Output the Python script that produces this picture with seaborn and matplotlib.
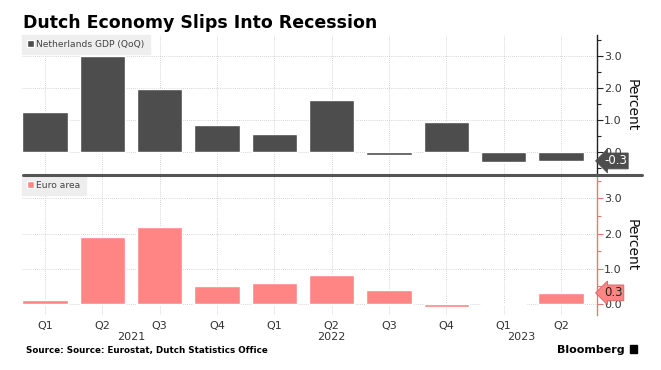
import matplotlib
matplotlib.use("Agg")
import matplotlib.pyplot as plt
from matplotlib.lines import Line2D
from matplotlib.patches import Rectangle
from matplotlib.ticker import MultipleLocator, FormatStrFormatter
import matplotlib.transforms as mtransforms
import seaborn as sns
import pandas as pd

# data
periods = ["2021 Q1", "2021 Q2", "2021 Q3", "2021 Q4",
           "2022 Q1", "2022 Q2", "2022 Q3", "2022 Q4",
           "2023 Q1", "2023 Q2"]
quarters = ["Q1", "Q2", "Q3", "Q4", "Q1", "Q2", "Q3", "Q4", "Q1", "Q2"]
years = ["2021", "2022", "2023"]
year_pos = [1.5, 5.0, 8.3]
nl_gdp = [1.26, 3.0, 1.96, 0.84, 0.56, 1.63, -0.1, 0.94, -0.32, -0.28]
euro_area = [0.1, 1.9, 2.2, 0.5, 0.6, 0.81, 0.39, -0.09, 0.01, 0.31]

df = pd.DataFrame({"period": periods, "nl": nl_gdp, "ea": euro_area})

sns.set_style("white")
plt.rcParams["font.family"] = ["DejaVu Sans"]

W, H = 661, 370
fig = plt.figure(figsize=(W / 100, H / 100), dpi=100)


def px_axes(left, top, right, bottom):
    return fig.add_axes([left / W, 1 - bottom / H, (right - left) / W, (bottom - top) / H])


ax1 = px_axes(22, 35, 597, 175)
ax2 = px_axes(22, 176, 597, 315)

dark = "#4d4d4d"
pink = "#ff8585"

sns.barplot(data=df, x="period", y="nl", color=dark, width=0.79, ax=ax1,
            label="Netherlands GDP (QoQ)", saturation=1)
sns.barplot(data=df, x="period", y="ea", color=pink, width=0.79, ax=ax2,
            label="Euro area", saturation=1)

limits = [(-0.72, 3.66), (-0.32, 3.64)]
spine_cols = ["#222222", "#e87878"]
for ax, (lo, hi), sc in zip([ax1, ax2], limits, spine_cols):
    ax.set_xlim(-0.4, 9.63)
    ax.set_ylim(lo, hi)
    ax.yaxis.tick_right()
    ax.yaxis.set_label_position("right")
    ax.yaxis.set_major_locator(MultipleLocator(1))
    ax.yaxis.set_minor_locator(MultipleLocator(0.5))
    ax.yaxis.set_major_formatter(FormatStrFormatter("%.1f"))
    ax.set_ylabel("Percent", rotation=270, labelpad=12, fontsize=10, color="#111111")
    ax.set_xlabel("")
    for s in ["top", "left", "bottom"]:
        ax.spines[s].set_visible(False)
    ax.spines["right"].set_color(sc)
    ax.spines["right"].set_linewidth(1)
    ax.tick_params(axis="y", which="major", length=4, width=0.8, color=sc,
                   labelsize=8, labelcolor="#333333", pad=1)
    ax.tick_params(axis="y", which="minor", length=3, width=0.8, color=sc)
    ax.set_axisbelow(True)
    ax.grid(True, axis="both", which="major", linestyle=(0, (1, 1.5)),
            color="#c8c8c8", linewidth=0.6)
    leg = ax.legend(loc="upper left", bbox_to_anchor=(0.0, 1.0), fontsize=6.6,
                    frameon=True, fancybox=False, framealpha=1, borderaxespad=0,
                    handlelength=0.8, handleheight=0.8, handletextpad=0.2,
                    borderpad=0.55)
    leg.get_frame().set_facecolor("#eeeeee")
    leg.get_frame().set_edgecolor("#eeeeee")
    for t in leg.get_texts():
        t.set_color("#444444")

ax1.tick_params(axis="x", length=0, labelbottom=False)
ax2.set_xticks(range(len(quarters)))
ax2.set_xticklabels(quarters, fontsize=8, color="#333333")
ax2.tick_params(axis="x", length=0, pad=4)

for yr, xp in zip(years, year_pos):
    ax2.text(xp, -0.125, yr, transform=mtransforms.blended_transform_factory(ax2.transData, ax2.transAxes),
             ha="center", va="top", fontsize=8, color="#333333")

# last-value tags on the right axis
for ax, vals, fc, tc, ec in [(ax1, nl_gdp, dark, "white", dark),
                             (ax2, euro_area, pink, "#222222", "#d06060")]:
    tr = mtransforms.blended_transform_factory(ax.transAxes, ax.transData)
    v = vals[-1]
    ax.text(1.012, v, f"{v:.1f}", transform=tr, ha="left", va="center", fontsize=8.5,
            color=tc, zorder=5, clip_on=False,
            bbox=dict(boxstyle="larrow,pad=0.12", fc=fc, ec=ec, lw=0.6))

# separator between panels
fig.add_artist(Line2D([23 / W, 642 / W], [1 - 175 / H, 1 - 175 / H], color="#555555", lw=2.2))

fig.text(23 / W, 1 - 28 / H, "Dutch Economy Slips Into Recession", fontsize=12.5,
         fontweight="bold", va="baseline", ha="left", color="black")
fig.text(26 / W, 1 - 353 / H, "Source: Source: Eurostat, Dutch Statistics Office",
         fontsize=6.3, fontweight="bold", va="baseline", ha="left", color="black")
fig.text(625 / W, 1 - 353 / H, "Bloomberg", fontsize=8, fontweight="bold",
         va="baseline", ha="right", color="black")
fig.add_artist(Rectangle((630 / W, 1 - 353 / H), 7 / W, 8 / H, color="black"))

fig.savefig("out.png", dpi=100)
